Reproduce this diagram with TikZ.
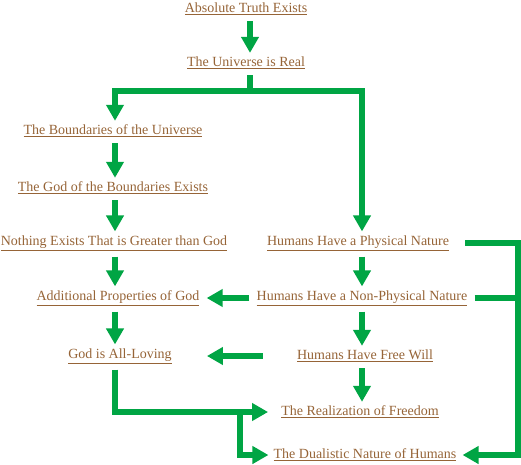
\documentclass[tikz,border=0pt]{standalone}
\usepackage{fontspec}
\setmainfont{Liberation Serif}
\usetikzlibrary{arrows.meta,calc}
\definecolor{flowgreen}{RGB}{0,165,68}
\definecolor{linkbrown}{RGB}{150,100,55}
\tikzset{
  topic/.style={inner sep=0pt, text=linkbrown, font=\fontsize{14}{16}\selectfont},
  flow/.style={draw=flowgreen, line width=5.5pt, -{Triangle[width=17pt,length=16pt]}},
  link/.style={draw=flowgreen, line width=5.5pt}
}
\newcommand{\tp}[1]{\underline{#1}}

\begin{document}
\begin{tikzpicture}[x=1pt,y=-1pt]
\useasboundingbox (0,0) rectangle (521,464);
% columns of the arrows
\coordinate (lc) at (115,0);
\coordinate (rc) at (362,0);
\coordinate (rt) at (518,0);
% topics
\node[topic] (truth) at (246,9) {\tp{Absolute Truth Exists}};
\node[topic] (univ) at (246,63) {\tp{The Universe is Real}};
\node[topic] (bound) at (113,131) {\tp{The Boundaries of the Universe}};
\node[topic] (godb) at (113,188) {\tp{The God of the Boundaries Exists}};
\node[topic] (nothing) at (114,243) {\tp{Nothing Exists That is Greater than God}};
\node[topic] (props) at (118,298) {\tp{Additional Properties of God}};
\node[topic] (loving) at (120,356) {\tp{God is All-Loving}};
\node[topic] (phys) at (358,243) {\tp{Humans Have a Physical Nature}};
\node[topic] (nonphys) at (362,298) {\tp{Humans Have a Non-Physical Nature}};
\node[topic] (will) at (365,356) {\tp{Humans Have Free Will}};
\node[topic] (freedom) at (360,412) {\tp{The Realization of Freedom}};
\node[topic] (dual) at (365,455) {\tp{The Dualistic Nature of Humans}};
\coordinate (split) at (250,91);
\coordinate (jn) at (240,411);
% arrows
\draw[flow, shorten <=6pt, shorten >=4pt] (truth.south -| split) -- (univ.north -| split);
\draw[link, shorten <=6pt] (univ.south -| split) -- (split);
\draw[flow, shorten >=4pt] (split) -| (bound.north -| lc);
\draw[flow, shorten >=4pt] (split) -| (phys.north -| rc);
\draw[flow, shorten <=6pt, shorten >=4pt] (bound.south -| lc) -- (godb.north -| lc);
\draw[flow, shorten <=6pt, shorten >=4pt] (godb.south -| lc) -- (nothing.north -| lc);
\draw[flow, shorten <=6pt, shorten >=4pt] (nothing.south -| lc) -- (props.north -| lc);
\draw[flow, shorten <=6pt, shorten >=4pt] (props.south -| lc) -- (loving.north -| lc);
\draw[flow, shorten <=6pt, shorten >=4pt] (phys.south -| rc) -- (nonphys.north -| rc);
\draw[flow, shorten <=6pt, shorten >=4pt] (nonphys.south -| rc) -- (will.north -| rc);
\draw[flow, shorten <=6pt, shorten >=4pt] (will.south -| rc) -- (freedom.north -| rc);
\draw[flow, shorten <=7pt, shorten >=7pt] (nonphys.west) -- (props.east);
\draw[flow, shorten <=34pt, shorten >=35pt] (will.west) -- (loving.east);
\draw[flow, shorten <=6pt, shorten >=13pt] (loving.south -| lc) |- (freedom.west);
\draw[flow, shorten >=5pt] (jn) |- (dual.west);
\draw[flow, shorten <=16pt, shorten >=6pt] (phys.east) -- (phys -| rt) |- (dual.east);
\draw[link, shorten <=7pt] (nonphys.east) -- ($(nonphys -| rt)+(2.75,0)$);
\end{tikzpicture}
\end{document}
